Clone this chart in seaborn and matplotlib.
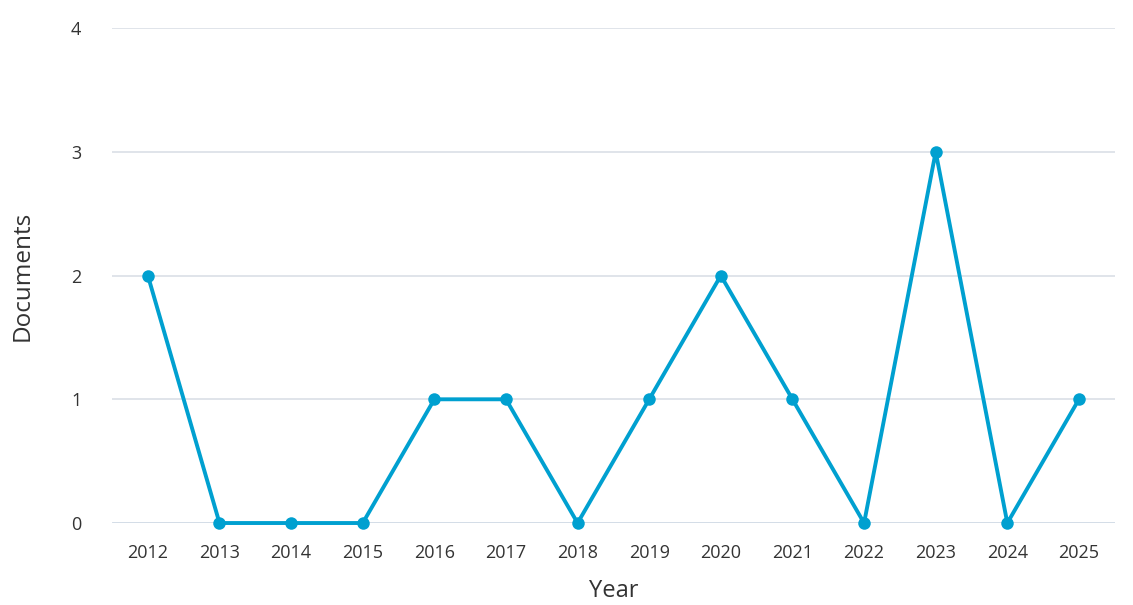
import matplotlib
matplotlib.use("Agg")
import matplotlib.pyplot as plt
import seaborn as sns
import pandas as pd

years = [2012, 2013, 2014, 2015, 2016, 2017, 2018, 2019, 2020, 2021, 2022, 2023, 2024, 2025]
documents = [2, 0, 0, 0, 1, 1, 0, 1, 2, 1, 0, 3, 0, 1]
y_ticks = [0, 1, 2, 3, 4]

df = pd.DataFrame({"Year": years, "Documents": documents})

sns.set_theme(style="white")
plt.rcParams["font.family"] = ["Open Sans", "DejaVu Sans"]

fig = plt.figure(figsize=(11.33, 6.05), dpi=100)
ax = fig.add_axes([0.0989, 0.1355, 0.885, 0.818])

line_color = "#00a0d0"
sns.lineplot(data=df, x="Year", y="Documents", ax=ax, color=line_color,
             linewidth=2.8, marker="o", markersize=9, markeredgewidth=0,
             zorder=3, clip_on=False)

ax.set_xlim(2011.5, 2025.5)
ax.set_ylim(0, 4)
ax.set_xticks(years)
ax.set_xticklabels([str(y) for y in years])
ax.set_yticks(y_ticks)

for t in y_ticks[1:]:
    ax.axhline(t, color="#dde2e8", linewidth=1.3, zorder=1)
ax.axhline(0, color="#c6d2e0", linewidth=1.8, zorder=2)

for s in ax.spines.values():
    s.set_visible(False)

ax.tick_params(axis="both", length=0, labelsize=13, labelcolor="#333333")
ax.tick_params(axis="x", pad=15)
ax.tick_params(axis="y", pad=22)
ax.set_xlabel("Year", fontsize=17, color="#333333", labelpad=12)
ax.set_ylabel("Documents", fontsize=17.5, color="#333333", labelpad=26)

fig.savefig("out.png", dpi=100)
